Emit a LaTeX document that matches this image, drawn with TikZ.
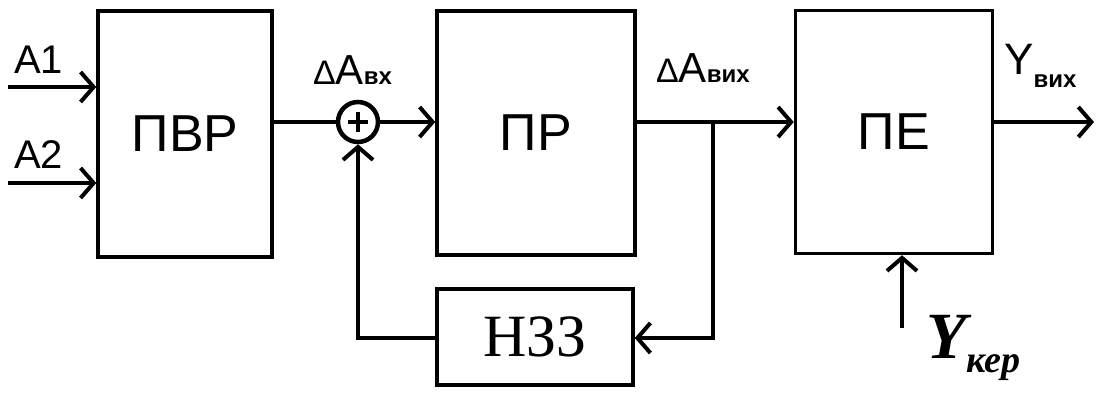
\documentclass[tikz,border=0pt]{standalone}
\usepackage{fontspec}
\setmainfont{Liberation Serif}
\setsansfont{Liberation Sans}
\usetikzlibrary{arrows.meta}
\begin{document}
\begin{tikzpicture}[x=1pt,y=-1pt,
  blk/.style={draw,line width=3.5pt,minimum width=174pt,minimum height=246pt,inner sep=0pt,font=\sffamily\fontsize{52}{52}\selectfont},
  conn/.style={line width=4.5pt},
  arr/.style={conn,-{Straight Barb[length=13pt,width=30pt,line width=4pt]}},
  lbl/.style={font=\sffamily\fontsize{40}{40}\selectfont,inner sep=0pt}]
\useasboundingbox (0,0) rectangle (1107,393);
\node[blk] (pvr) at (185,134) {ПВР};
\node[blk,minimum width=198pt,minimum height=244pt] (pr) at (536,133) {ПР};
\node[blk,minimum width=197pt,minimum height=243pt] (pe) at (894,132) {ПЕ};
\node[draw,line width=3.5pt,minimum width=196pt,minimum height=96pt,inner sep=0pt,font=\fontsize{60}{60}\selectfont] (nzz) at (535,337) {НЗЗ};
\node[draw,circle,line width=4.5pt,minimum size=40pt,inner sep=0pt] (sum) at (358,122) {};
\draw[line width=3.5pt] (sum.center) +(-10,0) -- +(10,0) (sum.center) +(0,-10) -- +(0,10);
\coordinate (a1) at (8,87);
\coordinate (a2) at (8,183);
\draw[arr] (a1) -- (a1 -| pvr.west);
\draw[arr] (a2) -- (a2 -| pvr.west);
\node[lbl,anchor=base west] (ta1) at (14,74) {A1};
\node[lbl,anchor=base west] (ta2) at (14,168) {A2};
\draw[conn] (pvr.east |- sum) -- (sum.west);
\draw[arr] (sum.east) -- (sum -| pr.west);
\coordinate (br) at (713,122);
\draw[arr] (pr.east |- br) -- (br -| pe.west);
\coordinate (brd) at (713,338);
\draw[arr] (br) -- (brd) -- (brd -| nzz.east);
\coordinate (fl) at (358,338);
\draw[arr] (fl -| nzz.west) -- (fl) -- (sum.south);
\coordinate (yo) at (1094,122);
\draw[arr] (pe.east |- yo) -- (yo);
\coordinate (yk) at (902,328);
\draw[arr] (yk) -- (yk |- pe.south);
\node[inner sep=0pt,anchor=base west] (dvx) at (313,85) {\sffamily\fontsize{34}{34}\selectfont Δ\fontsize{42}{42}\selectfont A\fontsize{24}{24}\selectfont\bfseries вх};
\node[inner sep=0pt,anchor=base west] (dvix) at (656,83) {\sffamily\fontsize{34}{34}\selectfont Δ\fontsize{42}{42}\selectfont A\fontsize{24}{24}\selectfont\bfseries вих};
\node[inner sep=0pt,anchor=base west] (yv) at (1004,75) {\sffamily\fontsize{44}{44}\selectfont Y\raisebox{-13pt}{\fontsize{24}{24}\selectfont\bfseries вих}};
\node[inner sep=0pt,anchor=base west] (ykr) at (926,358) {\bfseries\itshape\fontsize{66}{66}\selectfont Y\raisebox{-14pt}{\fontsize{38}{38}\selectfont кер}};
\end{tikzpicture}
\end{document}
